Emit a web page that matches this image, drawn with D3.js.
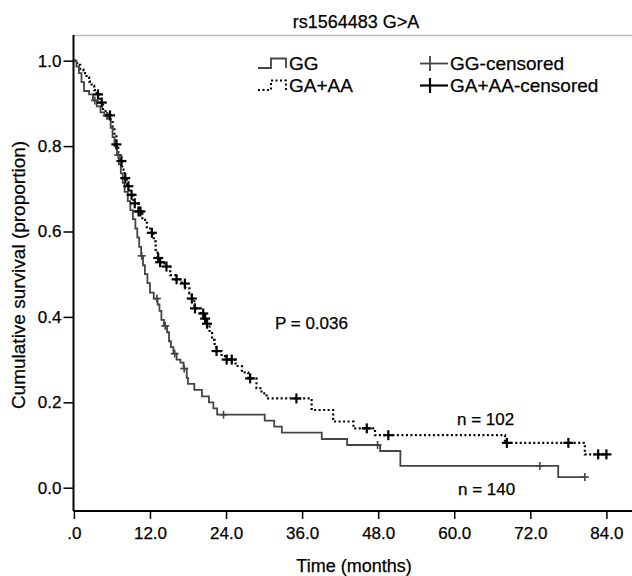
<!DOCTYPE html>
<meta charset="utf-8">
<script src="https://cdn.jsdelivr.net/npm/d3@7"></script>
<style>
body { margin: 0; background: #fff; }
text { font-family: "Liberation Sans", Arial, sans-serif; fill: #000; stroke: #000; stroke-width: 0.25px; }
.axis text { font-size: 17px; }
.axis line, .axis path { stroke: #000; }
</style>
<body>
<script>

// Kaplan-Meier steps: time (months) and survival after the step
var ggTime = [0,0.4,0.8,1.2,1.6,2.4,3.0,3.6,4.2,4.8,5.4,5.8,6.1,6.4,6.8,7.1,7.4,7.7,8.0,8.5,
  8.9,9.3,9.7,10.0,10.3,10.6,10.9,11.2,11.6,12.0,12.6,13.2,13.5,13.8,14.2,14.7,15.0,15.3,15.7,16.2,
  16.8,17.3,17.8,18.0,19.0,20.2,21.3,22.0,22.6,30.1,31.6,32.8,39.1,43.1,48.3,51.5,76.4,80.6];
var ggSurv = [1,0.986,0.971,0.950,0.929,0.921,0.907,0.893,0.879,0.871,0.864,0.843,0.821,0.800,0.779,0.757,0.736,0.714,0.693,0.671,
  0.650,0.629,0.607,0.586,0.564,0.543,0.521,0.500,0.479,0.457,0.443,0.429,0.414,0.393,0.379,0.364,0.343,0.329,0.314,0.300,
  0.293,0.279,0.257,0.243,0.229,0.214,0.200,0.186,0.171,0.157,0.143,0.129,0.114,0.100,0.086,0.051,0.025,0.025];
var ggCens = [3.3,5.2,7.0,10.7,13.1,14.4,15.9,17.4,23.6,47.9,73.5,80.6];

var gaTime = [0,0.5,1.0,1.5,2.0,2.4,2.8,3.2,3.6,4.1,4.6,5.3,5.8,6.1,6.4,6.7,7.0,7.3,7.6,8.0,
  8.4,8.8,9.4,10.2,10.8,11.5,12.3,12.6,12.9,13.2,13.5,14.3,15.2,16.0,17.0,17.6,18.2,18.6,19.0,20.0,
  20.5,21.0,21.4,21.8,22.2,22.5,23.3,24.0,25.5,26.5,27.5,28.8,29.6,30.4,37.5,40.9,44.1,47.5,68.0,80.6,84.0];
var gaSurv = [1,0.990,0.980,0.971,0.961,0.951,0.941,0.931,0.921,0.902,0.882,0.872,0.862,0.843,0.823,0.804,0.784,0.765,0.745,0.725,
  0.706,0.686,0.666,0.647,0.627,0.607,0.597,0.577,0.557,0.538,0.528,0.518,0.498,0.488,0.478,0.467,0.455,0.443,0.420,0.408,
  0.396,0.384,0.362,0.346,0.330,0.320,0.308,0.300,0.285,0.270,0.256,0.233,0.221,0.209,0.182,0.155,0.139,0.123,0.105,0.078,0.078];
var gaCens = [3.8,4.4,5.7,6.7,7.5,8.1,8.6,9.1,9.6,10.2,10.5,12.3,13.3,13.6,14.6,16.2,17.5,18.6,19.1,20.4,
  20.7,21.0,22.5,24.1,24.9,27.8,35.1,46.2,49.6,68.3,78.0,82.7,84.0];

var xTicks = [0,12,24,36,48,60,72,84];
var yTicks = [0,0.2,0.4,0.6,0.8,1.0];

var width = 632, height = 576;

var svg = d3.select("body").append("svg")
    .attr("width", width)
    .attr("height", height);

var x = d3.scaleLinear().domain([0,84]).range([73.9, 606.4]);
var y = d3.scaleLinear().domain([0,1]).range([487.7, 60.7]);

// title + frame
svg.append("text")
    .attr("x", 356).attr("y", 28)
    .attr("text-anchor", "middle")
    .style("font-size", "18px")
    .text("rs1564483 G>A");

svg.append("line")
    .attr("x1", 73.5).attr("x2", width)
    .attr("y1", 35.5).attr("y2", 35.5)
    .attr("stroke", "#bbb").attr("stroke-width", 1.5);

// axes
var xAxis = svg.append("g")
    .attr("class", "axis")
    .attr("transform", "translate(0,511)")
    .call(d3.axisBottom(x).tickValues(xTicks).tickSize(8).tickPadding(8)
      .tickFormat(function(d) { return d == 0 ? ".0" : d3.format(".1f")(d); }));
xAxis.select(".domain").remove();
xAxis.selectAll("line").attr("stroke-width", 1.5);

var yAxis = svg.append("g")
    .attr("class", "axis")
    .attr("transform", "translate(73.5,0)")
    .call(d3.axisLeft(y).tickValues(yTicks).tickSize(10).tickPadding(2)
      .tickFormat(d3.format(".1f")));
yAxis.select(".domain").remove();
yAxis.selectAll("line").attr("stroke-width", 1.5);

svg.append("line")
    .attr("x1", 73.5).attr("x2", 73.5).attr("y1", 35).attr("y2", 511)
    .attr("stroke", "#000").attr("stroke-width", 2);
svg.append("line")
    .attr("x1", 73.5).attr("x2", width).attr("y1", 511).attr("y2", 511)
    .attr("stroke", "#000").attr("stroke-width", 2);

svg.append("text")
    .attr("x", 354).attr("y", 572)
    .attr("text-anchor", "middle")
    .style("font-size", "18px")
    .text("Time (months)");

svg.append("text")
    .attr("transform", "translate(25,275) rotate(-90)")
    .attr("text-anchor", "middle")
    .style("font-size", "19px")
    .text("Cumulative survival (proportion)");

// curves
var line = d3.line()
    .x(function(d) { return x(d[0]); })
    .y(function(d) { return y(d[1]); })
    .curve(d3.curveStepAfter);

function survAt(times, surv, t) {
  var i = d3.bisectRight(times, t) - 1;
  return surv[Math.max(i, 0)];
}

var gaPts = gaTime.map(function(t, i) { return [t, gaSurv[i]]; });
var ggPts = ggTime.map(function(t, i) { return [t, ggSurv[i]]; });

svg.append("path")
    .attr("d", line(gaPts))
    .attr("fill", "none")
    .attr("stroke", "#000")
    .attr("stroke-width", 2.2)
    .attr("stroke-dasharray", "2,2.5");

svg.append("path")
    .attr("d", line(ggPts))
    .attr("fill", "none")
    .attr("stroke", "#444")
    .attr("stroke-width", 1.8);

function cross(g, cx, cy, half, col, w) {
  g.append("line").attr("x1", cx - half).attr("x2", cx + half).attr("y1", cy).attr("y2", cy)
    .attr("stroke", col).attr("stroke-width", w);
  g.append("line").attr("x1", cx).attr("x2", cx).attr("y1", cy - half).attr("y2", cy + half)
    .attr("stroke", col).attr("stroke-width", w);
}

var censG = svg.append("g");
ggCens.forEach(function(t) {
  cross(censG, x(t), y(survAt(ggTime, ggSurv, t)), 4, "#444", 1.6);
});
gaCens.forEach(function(t) {
  cross(censG, x(t), y(survAt(gaTime, gaSurv, t)), 5, "#000", 2.2);
});

// legend
var leg = svg.append("g");
leg.append("path")
    .attr("d", "M258,68H271V58.5H286V68")
    .attr("fill", "none").attr("stroke", "#444").attr("stroke-width", 1.8);
leg.append("path")
    .attr("d", "M258,90H271V80.5H286V90")
    .attr("fill", "none").attr("stroke", "#000").attr("stroke-width", 2)
    .attr("stroke-dasharray", "2,2.5");
leg.append("text").attr("x", 289).attr("y", 70).style("font-size", "19px").text("GG");
leg.append("text").attr("x", 289).attr("y", 92).style("font-size", "19px").text("GA+AA");

leg.append("line").attr("x1", 420).attr("x2", 448).attr("y1", 63.5).attr("y2", 63.5)
    .attr("stroke", "#444").attr("stroke-width", 1.8);
leg.append("line").attr("x1", 430).attr("x2", 430).attr("y1", 56).attr("y2", 71)
    .attr("stroke", "#444").attr("stroke-width", 1.8);
leg.append("line").attr("x1", 420).attr("x2", 448).attr("y1", 85.5).attr("y2", 85.5)
    .attr("stroke", "#000").attr("stroke-width", 2.2);
leg.append("line").attr("x1", 430).attr("x2", 430).attr("y1", 78).attr("y2", 93)
    .attr("stroke", "#000").attr("stroke-width", 2.2);
leg.append("text").attr("x", 450).attr("y", 70).style("font-size", "19px").text("GG-censored");
leg.append("text").attr("x", 450).attr("y", 92).style("font-size", "19px").text("GA+AA-censored");

// annotations
svg.append("text").attr("x", 275).attr("y", 329).style("font-size", "17px").text("P = 0.036");
svg.append("text").attr("x", 457).attr("y", 425).style("font-size", "17px").text("n = 102");
svg.append("text").attr("x", 458).attr("y", 495).style("font-size", "17px").text("n = 140");

</script>
</body>
